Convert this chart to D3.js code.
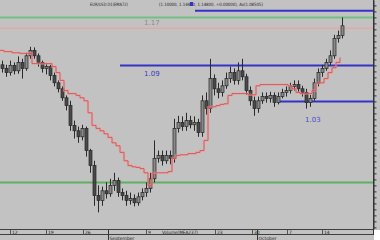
<!DOCTYPE html>
<html><head><meta charset="utf-8">
<script src="https://cdn.jsdelivr.net/npm/d3@7"></script>
<style>body{margin:0;background:#fff}svg{display:block}</style>
</head><body>
<script>
const opens =[1.091,1.085,1.078,1.090,1.081,1.095,1.085,1.106,1.115,1.106,1.095,1.085,1.088,1.073,1.061,1.051,1.036,1.023,0.990,0.981,0.971,0.985,0.948,0.923,0.873,0.865,0.881,0.876,0.890,0.898,0.878,0.873,0.865,0.868,0.861,0.871,0.878,0.885,0.901,0.935,0.940,0.931,0.940,0.935,0.985,0.995,0.988,0.998,0.991,0.995,0.978,1.031,1.018,1.068,1.051,1.045,1.056,1.068,1.078,1.065,1.081,1.071,1.048,1.031,1.018,1.031,1.038,1.035,1.040,1.028,1.038,1.045,1.048,1.055,1.058,1.051,1.045,1.028,1.035,1.061,1.078,1.085,1.095,1.106,1.135,1.140];
const highs =[1.098,1.091,1.098,1.095,1.105,1.101,1.111,1.121,1.120,1.110,1.098,1.093,1.091,1.078,1.065,1.055,1.040,1.031,0.998,0.988,0.991,0.988,0.951,0.931,0.890,0.888,0.895,0.901,0.911,0.903,0.885,0.881,0.878,0.875,0.878,0.885,0.895,0.911,0.965,0.948,0.948,0.948,0.948,1.001,1.006,1.005,1.011,1.006,1.005,1.001,1.040,1.045,1.101,1.075,1.061,1.065,1.078,1.088,1.085,1.095,1.101,1.076,1.055,1.038,1.038,1.045,1.045,1.046,1.045,1.045,1.051,1.055,1.061,1.065,1.065,1.056,1.051,1.041,1.068,1.085,1.091,1.101,1.115,1.141,1.148,1.170];
const lows  =[1.078,1.071,1.073,1.075,1.076,1.068,1.081,1.101,1.101,1.088,1.078,1.075,1.065,1.055,1.045,1.031,1.015,0.981,0.968,0.961,0.965,0.938,0.911,0.856,0.845,0.856,0.868,0.871,0.881,0.871,0.865,0.856,0.858,0.855,0.856,0.865,0.871,0.878,0.895,0.928,0.923,0.926,0.925,0.928,0.978,0.981,0.981,0.985,0.981,0.971,0.971,1.008,1.011,1.040,1.035,1.038,1.051,1.061,1.058,1.058,1.065,1.041,1.023,1.006,1.011,1.026,1.028,1.028,1.021,1.025,1.035,1.038,1.043,1.048,1.045,1.038,1.018,1.021,1.031,1.055,1.071,1.081,1.090,1.101,1.128,1.135];
const closes=[1.085,1.078,1.090,1.081,1.095,1.085,1.106,1.115,1.106,1.095,1.085,1.088,1.073,1.061,1.051,1.036,1.023,0.990,0.981,0.971,0.985,0.948,0.923,0.873,0.865,0.881,0.876,0.890,0.898,0.878,0.873,0.865,0.868,0.861,0.871,0.878,0.885,0.901,0.935,0.940,0.931,0.940,0.935,0.985,0.995,0.988,0.998,0.991,0.995,0.978,1.031,1.018,1.068,1.051,1.045,1.056,1.068,1.078,1.065,1.081,1.071,1.048,1.031,1.018,1.031,1.038,1.035,1.040,1.028,1.038,1.045,1.048,1.055,1.058,1.051,1.045,1.028,1.035,1.061,1.078,1.085,1.095,1.106,1.135,1.140,1.156];
const stops =[1.115,1.113,1.113,1.111,1.111,1.110,1.110,1.110,1.093,1.093,1.093,1.093,1.093,1.088,1.078,1.065,1.048,1.043,1.043,1.040,1.036,1.031,1.011,0.990,0.985,0.981,0.976,0.970,0.961,0.956,0.945,0.931,0.923,0.921,0.920,0.918,0.911,0.890,0.911,0.911,0.911,0.911,0.913,0.935,0.940,0.941,0.941,0.943,0.943,0.945,0.948,0.965,1.020,1.021,1.023,1.025,1.026,1.040,1.043,1.043,1.043,1.043,1.041,1.041,1.056,1.058,1.058,1.058,1.058,1.058,1.058,1.058,1.056,1.051,1.045,1.043,1.043,1.043,1.048,1.060,1.061,1.068,1.078,1.086,1.095,1.103];
const levelPrices=[1.181,1.170,1.152,1.090,1.030,0.895];
const levelStart =[48.25,-1,-1,29.5,69,-1];
const levelColors=["#3333c8","#72c080","#e6a6a6","#3333c8","#3333c8","#5cb060"];
const levelLabels=["","1.17","","1.09","1.03",""];
const levelLabelIdx=[0,35.5,0,35.5,75.75,0];
const levelLabelDy=[0,8,0,11,21,0];
const levelLabelColors=["","#8c8c8c","","#3a3ac0","#4a4ac8",""];
const dateLabels=["12","19","26","9","23","30","7","14"];
const dateIdx=[2,11,20.25,36,53.25,62.5,71.25,80];
const monthLabels=["September","October"];
const monthIdx=[26.5,63.75];
const titleText="EUR/USD D1(EMA72)";
const infoText="(1.10000, 1.14800, 1.14800, +0.00000), Av(1.08505)";
const volumeText="Volume(MEA237)";

const W=380,H=240,PR=373,PB=229;
const svg=d3.select("body").append("svg").attr("width",W).attr("height",H)
  .style("font-family","DejaVu Sans");
svg.append("rect").attr("width",W).attr("height",H).attr("fill","#c2c2c2");
svg.append("rect").attr("x",PR+1).attr("y",PB+1).attr("width",W-PR).attr("height",H-PB).attr("fill","#ffffff");

const x=d3.scaleLinear().domain([0,85]).range([2,342]);
const y=d3.scaleLinear().domain([0.8173,1.199]).range([PB,0]);

svg.append("clipPath").attr("id","pc").append("rect").attr("width",PR).attr("height",PB);
const g=svg.append("g").attr("clip-path","url(#pc)");

// level lines
levelPrices.forEach((p,i)=>{
  const x0=levelStart[i]<0?0:x(levelStart[i]);
  g.append("line").attr("x1",x0).attr("x2",PR).attr("y1",y(p)).attr("y2",y(p))
   .attr("stroke",levelColors[i]).attr("stroke-width",i==2?1.5:2);
  if(levelLabels[i]) g.append("text").attr("x",x(levelLabelIdx[i])).attr("y",y(p)+levelLabelDy[i])
   .attr("font-size",7).attr("fill",levelLabelColors[i]).text(levelLabels[i]);
});

// candles
const idx=d3.range(opens.length);
g.selectAll(".w").data(idx).join("line")
  .attr("x1",i=>x(i)+0.5).attr("x2",i=>x(i)+0.5)
  .attr("y1",i=>y(highs[i])).attr("y2",i=>y(lows[i]))
  .attr("stroke","#2a2a2a").attr("stroke-width",1);
g.selectAll(".b").data(idx).join("rect")
  .attr("x",i=>x(i)-1).attr("width",3)
  .attr("y",i=>y(Math.max(opens[i],closes[i])))
  .attr("height",i=>Math.max(1,Math.abs(y(opens[i])-y(closes[i]))))
  .attr("fill",i=>closes[i]>=opens[i]?"#8a8a8a":"#4a4a4a")
  .attr("stroke","#262626").attr("stroke-width",0.7);

// trailing stop
const line=d3.line().x((d,i)=>x(i)-2).y(d=>y(d)).curve(d3.curveStepAfter);
g.append("path").datum(stops).attr("d",line).attr("fill","none")
  .attr("stroke","#f0a0a0").attr("stroke-width",2.2).attr("opacity",0.6);
g.append("path").datum(stops).attr("d",line).attr("fill","none")
  .attr("stroke","#d85050").attr("stroke-width",0.9);

// right axis
const ra=d3.axisRight(y).tickValues(d3.range(0.82,1.2,0.01)).tickFormat("").tickSize(3).tickSizeOuter(0);
const rg=svg.append("g").attr("transform",`translate(${PR+0.5},0)`).call(ra);
rg.selectAll("path,line").attr("stroke","#333");

// bottom axis strip
[PB+0.5,PB+5.5].forEach(yy=>svg.append("line").attr("x1",0).attr("x2",PR).attr("y1",yy).attr("y2",yy).attr("stroke","#404040").attr("stroke-width",1));
svg.append("line").attr("x1",PR+0.5).attr("x2",PR+0.5).attr("y1",0).attr("y2",PB+6).attr("stroke","#333");
dateLabels.forEach((t,i)=>{
  const xx=Math.round(x(dateIdx[i]))+0.5;
  svg.append("line").attr("x1",xx).attr("x2",xx).attr("y1",PB+1).attr("y2",PB+5).attr("stroke","#555");
  svg.append("text").attr("x",xx+1.5).attr("y",PB+5).attr("font-size",4.5).attr("fill","#222").text(t);
});
monthLabels.forEach((t,i)=>{
  const xx=Math.round(x(monthIdx[i]))+0.5;
  svg.append("line").attr("x1",xx).attr("x2",xx).attr("y1",PB+1).attr("y2",H).attr("stroke","#333");
  svg.append("text").attr("x",xx+1).attr("y",H-0.5).attr("font-size",4.5).attr("fill","#222").text(t);
});
svg.append("text").attr("x",162).attr("y",PB+5).attr("font-size",4.5).attr("fill","#222")
  .attr("textLength",36).attr("lengthAdjust","spacingAndGlyphs").text(volumeText);

// title texts
svg.append("text").attr("x",90).attr("y",6).attr("font-size",4.5).attr("fill","#222")
  .attr("textLength",38).attr("lengthAdjust","spacingAndGlyphs").text(titleText);
svg.append("text").attr("x",159).attr("y",6).attr("font-size",4.5).attr("fill","#222")
  .attr("textLength",104).attr("lengthAdjust","spacingAndGlyphs").text(infoText);
svg.append("rect").attr("x",190).attr("y",2).attr("width",3).attr("height",4).attr("fill","#3333c8");
</script>
</body></html>
